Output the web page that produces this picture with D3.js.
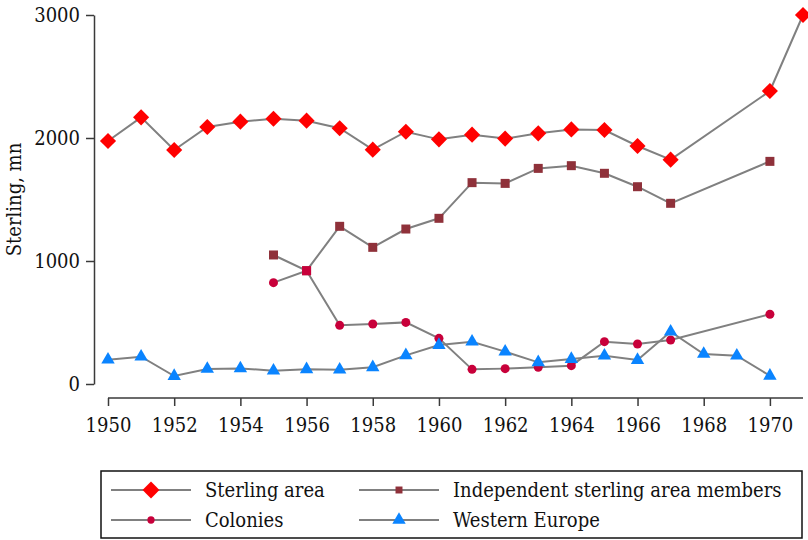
<!DOCTYPE html>
<html>
<head>
<meta charset="utf-8">
<script src="https://cdn.jsdelivr.net/npm/d3@7"></script>
<style>
  html, body { margin: 0; padding: 0; background: #fff; }
  svg { display: block; }
  text { font-family: "DejaVu Serif Condensed", "DejaVu Serif", serif; font-stretch: condensed; fill: #111; }
</style>
</head>
<body>
<svg id="chart" width="808" height="540"></svg>
<script>
// ---- Data ----
const sterlingYears = [1950,1951,1952,1953,1954,1955,1956,1957,1958,1959,1960,1961,1962,1963,1964,1965,1966,1967,1970,1971];
const sterlingArea  = [1976,2168,1902,2089,2133,2157,2141,2079,1905,2051,1989,2027,1995,2038,2070,2065,1935,1824,2382,3000];

const independentYears = [1955,1956,1957,1958,1959,1960,1961,1962,1963,1964,1965,1966,1967,1970];
const independent      = [1049, 921,1282,1111,1260,1347,1637,1631,1753,1775,1713,1604,1469,1810];

const coloniesYears = [1955,1956,1957,1958,1959,1960,1961,1962,1963,1964,1965,1966,1967,1970];
const colonies      = [ 824, 921, 477, 488, 501, 371, 119, 125, 136, 149, 344, 325, 358, 567];

const westernYears  = [1950,1951,1952,1953,1954,1955,1956,1957,1958,1959,1960,1961,1962,1963,1964,1965,1966,1967,1968,1969,1970];
const westernEurope = [ 198, 222,  65, 122, 127, 108, 119, 116, 136, 233, 317, 344, 263, 176, 203, 230, 195, 425, 244, 230,  67];

const xTicks = [1950,1952,1954,1956,1958,1960,1962,1964,1966,1968,1970];
const yTicks = [0,1000,2000,3000];
const yTitle = "Sterling, mn";

const seriesNames = ["Sterling area","Independent sterling area members","Colonies","Western Europe"];

// ---- Setup ----
const svg = d3.select("#chart");
const x = d3.scaleLinear().domain([1950, 1971]).range([108, 803]);
const y = d3.scaleLinear().domain([0, 3000]).range([384, 15]);

const lineColor = "#808080";
const axisColor = "#3a3a3a";
const fontSize = 20;

const series = [
  { name: seriesNames[0], years: sterlingYears, values: sterlingArea, shape: "diamond", color: "#ff0000" },
  { name: seriesNames[1], years: independentYears, values: independent, shape: "square", color: "#8f313a" },
  { name: seriesNames[2], years: coloniesYears, values: colonies, shape: "circle", color: "#c8003a" },
  { name: seriesNames[3], years: westernYears, values: westernEurope, shape: "triangle", color: "#0a84ff" }
];

function symbolFor(shape, scale) {
  const s = scale || 1;
  if (shape === "diamond") return d3.symbol().type(d3.symbolSquare).size(130 * s);
  if (shape === "square") return d3.symbol().type(d3.symbolSquare).size(81 * s);
  if (shape === "circle") return d3.symbol().type(d3.symbolCircle).size(Math.PI * 20.25 * s);
  return d3.symbol().type(d3.symbolTriangle).size(78 * s);
}
function rotFor(shape) { return shape === "diamond" ? 45 : 0; }

// ---- Axes ----
const yAxis = d3.axisLeft(y).tickValues(yTicks).tickSize(8).tickSizeOuter(0).tickPadding(6).tickFormat(d3.format("d"));
const gy = svg.append("g").attr("transform", "translate(94,0)").call(yAxis);
const xAxis = d3.axisBottom(x).tickValues(xTicks).tickSize(8).tickSizeOuter(0).tickPadding(12).tickFormat(d3.format("d"));
const gx = svg.append("g").attr("transform", "translate(0,398)").call(xAxis);
[gx, gy].forEach(g => {
  g.select(".domain").attr("stroke", axisColor).attr("stroke-width", 1.5);
  g.selectAll(".tick line").attr("stroke", axisColor).attr("stroke-width", 1.5);
  g.selectAll(".tick text").attr("font-size", fontSize).attr("fill", "#111")
    .style("font-family", '"DejaVu Serif Condensed", "DejaVu Serif", serif');
});
gx.select(".domain").attr("d", `M${x(1950)},0H${x(1971)}`);

svg.append("text")
  .attr("transform", `translate(14,${(y(0) + y(3000)) / 2}) rotate(-90)`)
  .attr("text-anchor", "middle")
  .attr("dominant-baseline", "central")
  .attr("font-size", fontSize)
  .text(yTitle);

// ---- Lines ----
const line = d3.line().x(d => x(d[0])).y(d => y(d[1]));
series.forEach(s => {
  const pts = s.years.map((yr, i) => [yr, s.values[i]]);
  svg.append("path").datum(pts)
    .attr("d", line)
    .attr("fill", "none")
    .attr("stroke", lineColor)
    .attr("stroke-width", 2);
});

// ---- Markers ----
series.forEach(s => {
  const pts = s.years.map((yr, i) => [yr, s.values[i]]);
  svg.append("g").selectAll("path").data(pts).join("path")
    .attr("d", d => {
      // where a colony point coincides with an independent-members point, the marker is drawn as a square
      if (s.shape === "circle") {
        const j = independentYears.indexOf(d[0]);
        if (j >= 0 && independent[j] === d[1]) return symbolFor("square")();
      }
      return symbolFor(s.shape)();
    })
    .attr("transform", d => `translate(${x(d[0])},${y(d[1])}) rotate(${rotFor(s.shape)})`)
    .attr("fill", s.color);
});

// ---- Legend ----
const legend = svg.append("g");
legend.append("rect")
  .attr("x", 101).attr("y", 471).attr("width", 701).attr("height", 67)
  .attr("fill", "#fff").attr("stroke", "#111").attr("stroke-width", 1.5);
const legendPos = [
  { lx: 111, ty: 490 }, { lx: 359, ty: 490 },
  { lx: 111, ty: 520 }, { lx: 359, ty: 520 }
];
const legendScale = [1.1, 0.6, 0.65, 1.0];
series.forEach((s, i) => {
  const p = legendPos[i];
  const g = legend.append("g");
  g.append("line").attr("x1", p.lx).attr("x2", p.lx + 80).attr("y1", p.ty).attr("y2", p.ty)
    .attr("stroke", lineColor).attr("stroke-width", 2);
  g.append("path").attr("d", symbolFor(s.shape, legendScale[i])())
    .attr("transform", `translate(${p.lx + 40},${p.ty}) rotate(${rotFor(s.shape)})`)
    .attr("fill", s.color);
  g.append("text").attr("x", p.lx + 94).attr("y", p.ty)
    .attr("dominant-baseline", "central")
    .attr("font-size", fontSize)
    .text(s.name);
});
</script>
</body>
</html>
